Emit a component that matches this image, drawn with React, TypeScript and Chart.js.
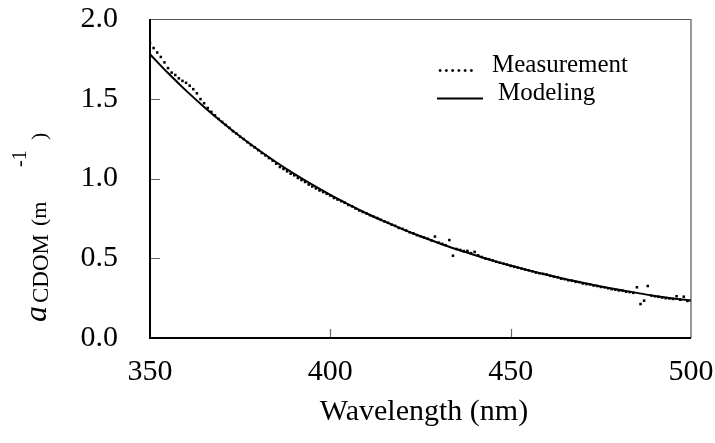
import React, { useEffect, useRef } from "react";
import { Chart, registerables } from "chart.js";

Chart.register(...registerables);

const MEAS_START = 350; // nm, measurement step 1 nm
const measurementValues = [
  1.850, 1.818, 1.790, 1.762, 1.728, 1.692, 1.664, 1.649, 1.628, 1.612, 1.600, 1.582, 1.560, 1.534, 1.498, 1.472, 1.442, 1.418, 1.396, 1.374, 1.355,
  1.336, 1.318, 1.297, 1.281, 1.262, 1.247, 1.228, 1.210, 1.195, 1.178, 1.160, 1.145, 1.128, 1.112,
  1.093, 1.072, 1.060, 1.045, 1.030, 1.020, 1.003, 0.990, 0.978, 0.962, 0.950, 0.938, 0.925, 0.915, 0.904, 0.893, 0.878, 0.868, 0.858, 0.848, 0.834,
  0.826, 0.812, 0.800, 0.790, 0.781, 0.770, 0.761, 0.752, 0.741, 0.731, 0.722, 0.711, 0.703, 0.690, 0.684, 0.674, 0.663, 0.656, 0.645, 0.638, 0.630, 0.622, 0.612,
  0.636, 0.598, 0.590, 0.582, 0.614, 0.516, 0.558, 0.552, 0.545, 0.546, 0.532, 0.540, 0.518, 0.508, 0.498, 0.494, 0.487, 0.478, 0.472, 0.466, 0.460,
  0.452, 0.446, 0.441, 0.435, 0.429, 0.424, 0.418, 0.410, 0.406, 0.402, 0.398, 0.390, 0.384, 0.381, 0.372, 0.369, 0.362, 0.359, 0.352, 0.350,
  0.342, 0.338, 0.336, 0.329, 0.326, 0.320, 0.318, 0.312, 0.306, 0.303, 0.298, 0.297, 0.290, 0.288,
  0.283, 0.318, 0.213, 0.234, 0.326, 0.266, 0.262, 0.258, 0.254, 0.250, 0.248, 0.245, 0.262, 0.240, 0.259, 0.232, 0.236,
];

const modelWavelengths = [350, 355, 360, 365, 370, 375, 380, 385, 390, 395, 400, 405, 410, 415, 420, 425, 430, 435, 440, 445, 450, 455, 460, 465, 470, 475, 480, 485, 490, 495, 500];
const modelValues = [1.779, 1.661, 1.551, 1.449, 1.353, 1.263, 1.180, 1.102, 1.029, 0.961, 0.897, 0.838, 0.782, 0.731, 0.683, 0.638, 0.596, 0.556, 0.520, 0.485, 0.454, 0.424, 0.396, 0.370, 0.346, 0.323, 0.302, 0.283, 0.264, 0.248, 0.235];

const xTicks = [350, 400, 450, 500];
const yTicks = [0.0, 0.5, 1.0, 1.5, 2.0];

const SERIF = '"Liberation Serif", "Times New Roman", serif';

const overlay = {
  id: "overlay",
  afterDraw(chart: any) {
    const { ctx, chartArea, scales } = chart;
    const { left, right, top, bottom } = chartArea;
    ctx.save();
    // inner ticks
    ctx.strokeStyle = "#666";
    ctx.lineWidth = 1.2;
    ctx.beginPath();
    [0.5, 1.0, 1.5].forEach((v) => {
      const y = Math.round(scales.y.getPixelForValue(v)) + 0.5;
      ctx.moveTo(left, y);
      ctx.lineTo(left + 10, y);
    });
    [400, 450].forEach((v) => {
      const x = Math.round(scales.x.getPixelForValue(v)) + 0.5;
      ctx.moveTo(x, bottom);
      ctx.lineTo(x, bottom - 9);
    });
    ctx.stroke();
    // frame top / right
    ctx.strokeStyle = "#555";
    ctx.lineWidth = 1.2;
    ctx.beginPath();
    ctx.moveTo(left, top + 0.5);
    ctx.lineTo(right, top + 0.5);
    ctx.moveTo(right, top);
    ctx.lineTo(right, bottom);
    ctx.stroke();
    // axes left / bottom
    ctx.strokeStyle = "#000";
    ctx.lineWidth = 2;
    ctx.beginPath();
    ctx.moveTo(left, top);
    ctx.lineTo(left, bottom);
    ctx.lineTo(right, bottom);
    ctx.stroke();

    ctx.fillStyle = "#000";
    // x title
    ctx.font = `30px ${SERIF}`;
    ctx.textAlign = "center";
    ctx.textBaseline = "alphabetic";
    ctx.fillText("Wavelength (nm)", 424, 420);

    // y title (rotated)
    ctx.save();
    ctx.translate(46, 322);
    ctx.rotate(-Math.PI / 2);
    ctx.textAlign = "left";
    ctx.font = `italic 32px ${SERIF}`;
    ctx.fillText("a", 0, 0);
    ctx.font = `23px ${SERIF}`;
    ctx.fillText("CDOM", 19, 2);
    ctx.font = `22px ${SERIF}`;
    ctx.fillText("(m", 96, 0);
    ctx.font = `20px ${SERIF}`;
    ctx.fillText("-1", 155, -20);
    ctx.font = `22px ${SERIF}`;
    ctx.fillText(")", 182, 0);
    ctx.restore();

    // legend
    ctx.textAlign = "left";
    ctx.font = `25px ${SERIF}`;
    ctx.fillText("......", 437, 72);
    ctx.fillText("Measurement", 492, 72);
    ctx.strokeStyle = "#000";
    ctx.lineWidth = 2;
    ctx.beginPath();
    ctx.moveTo(437, 98.5);
    ctx.lineTo(483, 98.5);
    ctx.stroke();
    ctx.fillText("Modeling", 498, 100);
    ctx.restore();
  },
};

export default function App() {
  const ref = useRef<HTMLCanvasElement | null>(null);
  useEffect(() => {
    if (!ref.current) return;
    const measData = measurementValues.map((v, i) => ({ x: MEAS_START + i, y: v }));
    const modelData = modelWavelengths.map((w, i) => ({ x: w, y: modelValues[i] }));
    const chart = new Chart(ref.current, {
      type: "scatter",
      data: {
        datasets: [
          {
            label: "Measurement",
            data: measData,
            showLine: false,
            pointStyle: "rect",
            pointRadius: 1.8,
            pointHoverRadius: 1.8,
            backgroundColor: "#000",
            borderWidth: 0,
          },
          {
            label: "Modeling",
            type: "line",
            data: modelData,
            borderColor: "#000",
            borderWidth: 2,
            pointRadius: 0,
            tension: 0.4,
            cubicInterpolationMode: "monotone",
            fill: false,
          } as any,
        ],
      },
      options: {
        animation: false,
        responsive: false,
        devicePixelRatio: 1,
        layout: { padding: { top: 19, right: 24, left: 0, bottom: 0 } },
        plugins: { legend: { display: false }, tooltip: { enabled: false } },
        scales: {
          x: {
            type: "linear",
            min: 350,
            max: 500,
            afterBuildTicks: (s: any) => {
              s.ticks = xTicks.map((v) => ({ value: v }));
            },
            afterFit: (s: any) => {
              s.height = 105;
            },
            grid: { display: false, drawTicks: true, tickLength: 16 },
            border: { display: false },
            ticks: {
              color: "#000",
              font: { family: SERIF, size: 30 },
              padding: 0,
              maxRotation: 0,
              callback: (v: any) => String(v),
            },
          },
          y: {
            type: "linear",
            min: 0,
            max: 2,
            afterBuildTicks: (s: any) => {
              s.ticks = yTicks.map((v) => ({ value: v }));
            },
            afterFit: (s: any) => {
              s.width = 150;
            },
            grid: { display: false, drawTicks: true, tickLength: 32 },
            border: { display: false },
            ticks: {
              color: "#000",
              font: { family: SERIF, size: 30 },
              padding: 0,
              callback: (v: any) => Number(v).toFixed(1),
            },
          },
        },
      },
      plugins: [overlay],
    });
    return () => chart.destroy();
  }, []);
  return (
    <div style={{ position: "fixed", left: 0, top: 0, width: 715, height: 443, background: "#fff" }}>
      <canvas ref={ref} width={715} height={443} style={{ display: "block", width: 715, height: 443 }} />
    </div>
  );
}
